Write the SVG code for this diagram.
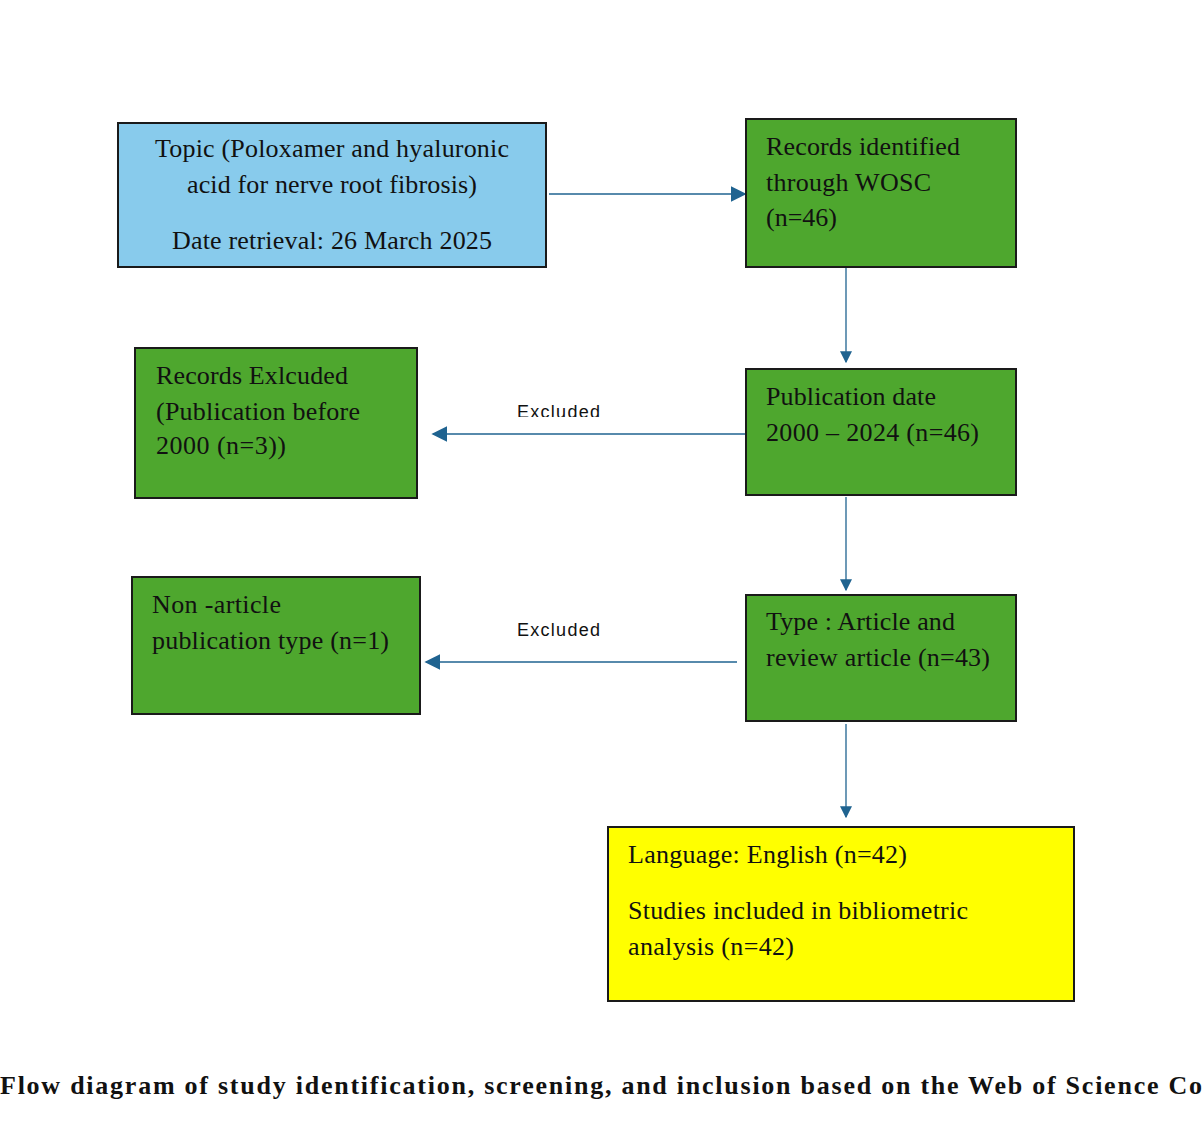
<svg xmlns="http://www.w3.org/2000/svg" width="1204" height="1126" viewBox="0 0 1204 1126">
<style>
.box{stroke:#1a1a1a;stroke-width:2}
.g{fill:#4EA72E}
.t{font-family:"Liberation Serif",serif;font-size:26px;fill:#111}
.lbl{font-family:"Liberation Sans",Arial,sans-serif;font-size:18px;fill:#111}
.c{stroke:#1F6390;stroke-width:1.3;fill:none}
.cap{font-family:"Liberation Serif",serif;font-size:26px;font-weight:bold;fill:#111}
</style>
<defs>
<marker id="ah" viewBox="0 0 10 10" refX="9" refY="5" markerWidth="12" markerHeight="12" markerUnits="userSpaceOnUse" orient="auto"><path d="M0,0 L10,5 L0,10 z" fill="#1F6390"/></marker>
<marker id="ah2" viewBox="0 0 10 10" refX="9" refY="5" markerWidth="16" markerHeight="16" markerUnits="userSpaceOnUse" orient="auto"><path d="M0,0 L10,5 L0,10 z" fill="#1F6390"/></marker>
<clipPath id="clip1"><rect x="500" y="395" width="120" height="22"/></clipPath>
</defs>
<rect width="1204" height="1126" fill="#fff"/>
<g id="connectors">
<line class="c" x1="549" y1="194" x2="745" y2="194" marker-end="url(#ah2)"/>
<line class="c" x1="846" y1="268" x2="846" y2="362" marker-end="url(#ah)"/>
<line class="c" x1="846" y1="497" x2="846" y2="590" marker-end="url(#ah)"/>
<line class="c" x1="846" y1="724" x2="846" y2="817" marker-end="url(#ah)"/>
<line class="c" x1="745" y1="434" x2="433" y2="434" marker-end="url(#ah2)"/>
<line class="c" x1="737" y1="662" x2="426" y2="662" marker-end="url(#ah2)"/>
<text class="lbl" x="517" y="418" textLength="83" clip-path="url(#clip1)">Excluded</text>
<text class="lbl" x="517" y="636" textLength="83">Excluded</text>
</g>
<g id="topic">
<rect class="box" x="118" y="123" width="428" height="144" fill="#88CBEC"/>
<text class="t" x="332" y="157" text-anchor="middle" textLength="354">Topic (Poloxamer and hyaluronic</text>
<text class="t" x="332" y="193" text-anchor="middle" textLength="290">acid for nerve root fibrosis)</text>
<text class="t" x="332" y="249" text-anchor="middle" textLength="320">Date retrieval: 26 March 2025</text>
</g>
<g id="records">
<rect class="box g" x="746" y="119" width="270" height="148"/>
<text class="t" x="766" y="155" textLength="194">Records identified</text>
<text class="t" x="766" y="191" textLength="165">through WOSC</text>
<text class="t" x="766" y="226">(n=46)</text>
</g>
<g id="pubdate">
<rect class="box g" x="746" y="369" width="270" height="126"/>
<text class="t" x="766" y="405" textLength="170">Publication date</text>
<text class="t" x="766" y="441" textLength="213">2000 – 2024 (n=46)</text>
</g>
<g id="excluded1">
<rect class="box g" x="135" y="348" width="282" height="150"/>
<text class="t" x="156" y="384" textLength="192">Records Exlcuded</text>
<text class="t" x="156" y="420" textLength="204">(Publication before</text>
<text class="t" x="156" y="454" textLength="130">2000 (n=3))</text>
</g>
<g id="excluded2">
<rect class="box g" x="132" y="577" width="288" height="137"/>
<text class="t" x="152" y="613" textLength="129">Non -article</text>
<text class="t" x="152" y="649" textLength="237">publication type (n=1)</text>
</g>
<g id="type">
<rect class="box g" x="746" y="595" width="270" height="126"/>
<text class="t" x="766" y="630" textLength="189">Type : Article and</text>
<text class="t" x="766" y="666" textLength="224">review article (n=43)</text>
</g>
<g id="language">
<rect class="box" x="608" y="827" width="466" height="174" fill="#FFFF00"/>
<text class="t" x="628" y="863" textLength="279">Language: English (n=42)</text>
<text class="t" x="628" y="919" textLength="340">Studies included in bibliometric</text>
<text class="t" x="628" y="955" textLength="166">analysis (n=42)</text>
</g>
<text class="cap" x="0" y="1094" textLength="1202">Flow diagram of study identification, screening, and inclusion based on the Web of Science Co</text>
</svg>
